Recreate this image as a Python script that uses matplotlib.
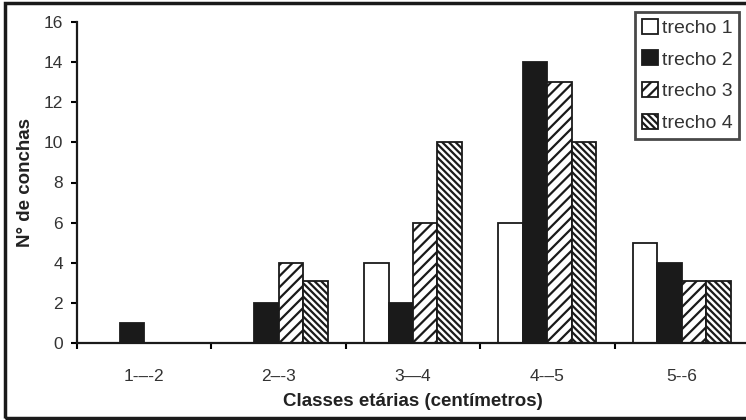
import numpy as np
import matplotlib.pyplot as plt
from matplotlib.patches import Rectangle

plt.rcParams['font.family'] = ['Liberation Sans', 'DejaVu Sans']
plt.rcParams['hatch.linewidth'] = 1.6

classes = ['1-–-2', '2–-3', '3—4', '4-–5', '5--6']
trecho1 = [0, 0, 4, 6, 5]
trecho2 = [1, 2, 2, 14, 4]
trecho3 = [0, 4, 6, 13, 3.1]
trecho4 = [0, 3.1, 10, 10, 3.1]
series = ['trecho 1', 'trecho 2', 'trecho 3', 'trecho 4']

fig = plt.figure(figsize=(7.46, 4.2), dpi=100)
ax = fig.add_axes([77 / 746, 77 / 420, 672 / 746, 321 / 420])

x = np.arange(len(classes))
w = 0.182
styles = [
    dict(color='white', hatch=None),
    dict(color='#1a1a1a', hatch=None),
    dict(color='white', hatch='///'),
    dict(color='white', hatch='\\\\\\\\\\'),
]
for i, (vals, name, st) in enumerate(zip([trecho1, trecho2, trecho3, trecho4], series, styles)):
    ax.bar(x + (i - 1.5) * w, vals, w, color=st['color'], hatch=st['hatch'],
           edgecolor='#1a1a1a', linewidth=1.3, label=name)

ax.set_xlim(-0.5, 4.5)
ax.set_ylim(0, 16)
ax.set_yticks(range(0, 17, 2))
ax.set_xticks(np.arange(-0.5, 5, 1))
ax.set_xticklabels([])
ax.set_xticks(x, minor=True)
ax.set_xticklabels(classes, minor=True)
ax.tick_params(axis='x', which='minor', length=0, pad=19, labelsize=12.5, labelcolor='#333333')
ax.tick_params(axis='x', which='major', length=4, width=1.5, direction='out')
ax.tick_params(axis='y', length=4, width=1.5, labelsize=12.5, labelcolor='#333333', pad=6)
for s in ['top', 'right']:
    ax.spines[s].set_visible(False)
for s in ['left', 'bottom']:
    ax.spines[s].set_linewidth(1.6)
    ax.spines[s].set_color('#1a1a1a')

ax.set_ylabel('N° de conchas', fontsize=13.5, fontweight='bold', color='#222222', labelpad=7)
ax.set_xlabel('Classes etárias (centímetros)', fontsize=13.5, fontweight='bold',
              color='#222222', labelpad=6)

leg = ax.legend(loc='upper right', bbox_to_anchor=(1.0, 1.062), frameon=True, fancybox=False,
                fontsize=14, handlelength=0.8, handleheight=0.8, handletextpad=0.2,
                labelspacing=0.7, borderpad=0.35)
leg.get_frame().set_edgecolor('#1a1a1a')
leg.get_frame().set_linewidth(2)
for t in leg.get_texts():
    t.set_color('#333333')

fig.patches.append(Rectangle((5 / 746, 2 / 420), 1.0, 415 / 420, transform=fig.transFigure,
                             fill=False, edgecolor='#1a1a1a', linewidth=2.5))

fig.savefig('out.png', dpi=100)
